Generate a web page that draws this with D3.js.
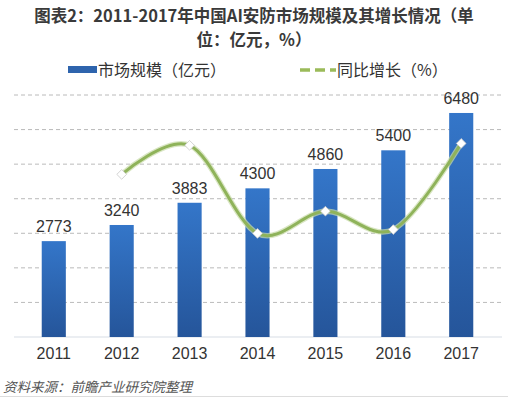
<!DOCTYPE html>
<html><head><meta charset="utf-8">
<script src="https://cdn.jsdelivr.net/npm/d3@7"></script>
<style>
html,body{margin:0;padding:0;background:#fff;}
svg{display:block;font-family:"Noto Sans CJK SC","Noto Sans",sans-serif;}
</style></head>
<body><svg id="c" width="508" height="397"></svg>
<script>
const years = ["2011","2012","2013","2014","2015","2016","2017"];
const marketSize = [2773,3240,3883,4300,4860,5400,6480];
const growthYears = ["2012","2013","2014","2015","2016","2017"];
const growthRate = [16.8,19.8,10.7,13.0,11.1,20.0];
const leftTicks = [0,1000,2000,3000,4000,5000,6000,7000];
const titleLines = ["图表2：2011-2017年中国AI安防市场规模及其增长情况（单","位：亿元，%）"];
const legendLabels = ["市场规模（亿元）","同比增长（%）"];
const sourceText = "资料来源：前瞻产业研究院整理";

const svg = d3.select("#c");
const m = {left:20, right:495, top:95, bottom:337};

const x = d3.scaleBand().domain(years).range([m.left, m.right]).paddingInner(0.645).paddingOuter(0.32);
const y = d3.scaleLinear().domain([0,7000]).range([m.bottom, m.top]);
const y2 = d3.scaleLinear().domain([0,25]).range([m.bottom, m.top]);

const defs = svg.append("defs");
const g = defs.append("linearGradient").attr("id","bg").attr("x1",0).attr("y1",0).attr("x2",0).attr("y2",1);
g.append("stop").attr("offset","0%").attr("stop-color","#3476c9");
g.append("stop").attr("offset","100%").attr("stop-color","#25559a");

// title
svg.append("g").selectAll("text").data(titleLines).join("text")
  .attr("x",254).attr("y",(d,i)=>22+i*24).attr("text-anchor","middle")
  .attr("font-size",16.5).attr("font-weight","bold").attr("fill","#3a3a3a").text(d=>d);

// gridlines
svg.append("g").selectAll("line").data(leftTicks.slice(1)).join("line")
  .attr("x1",14).attr("x2",502).attr("y1",d=>y(d)).attr("y2",d=>y(d))
  .attr("stroke","#a8a8a8").attr("stroke-width",0.8).attr("stroke-dasharray","4,3");

// baseline
svg.append("line").attr("x1",14).attr("x2",502).attr("y1",y(0)).attr("y2",y(0))
  .attr("stroke","#d8dde6").attr("stroke-width",1.2);

// bars
svg.append("g").selectAll("rect").data(marketSize).join("rect")
  .attr("x",(d,i)=>x(years[i])).attr("width",x.bandwidth())
  .attr("y",d=>y(d)).attr("height",d=>y(0)-y(d)).attr("fill","url(#bg)");

// bar labels
svg.append("g").selectAll("text").data(marketSize).join("text")
  .attr("x",(d,i)=>x(years[i])+x.bandwidth()/2).attr("y",d=>y(d)-9)
  .attr("text-anchor","middle").attr("font-size",16).attr("fill","#333")
  .attr("font-family","Liberation Sans, Arial, sans-serif").text(d=>d);

// x axis labels
const xAxis = d3.axisBottom(x).tickSize(0).tickPadding(11);
const ax = svg.append("g").attr("transform",`translate(0,${y(0)})`).call(xAxis);
ax.select(".domain").remove();
ax.selectAll("text").attr("font-size",16).attr("fill","#333").attr("font-family","Liberation Sans, Arial, sans-serif");

// growth line
const pts = growthRate.map((v,i)=>[x(growthYears[i])+x.bandwidth()/2, y2(v)]);
const line = d3.line().curve(d3.curveCardinal.tension(0));
svg.append("path").attr("d",line(pts)).attr("fill","none").attr("stroke","#c9dcaa").attr("stroke-width",5.5).attr("opacity",0.7);
svg.append("path").attr("d",line(pts)).attr("fill","none").attr("stroke","#8fb35a").attr("stroke-width",3);
svg.append("g").selectAll("path").data(pts).join("path")
  .attr("transform",d=>`translate(${d[0]},${d[1]})`)
  .attr("d",d3.symbol().type(d3.symbolDiamond2).size(60))
  .attr("fill","#fff").attr("stroke","#c8c8c8").attr("stroke-width",0.8);

// legend
const lg = svg.append("g");
lg.append("rect").attr("x",68).attr("y",66).attr("width",29).attr("height",7).attr("fill","#2e64ad");
lg.append("text").attr("x",98).attr("y",76).attr("font-size",16).attr("fill","#333").text(legendLabels[0]);
lg.append("line").attr("x1",300).attr("x2",336).attr("y1",70).attr("y2",70)
  .attr("stroke","#9bbb59").attr("stroke-width",3.5).attr("stroke-dasharray","10,5");
lg.append("text").attr("x",337).attr("y",76).attr("font-size",16).attr("fill","#333").text(legendLabels[1]);

// source
svg.append("text").attr("x",3).attr("y",392).attr("font-size",13.5).attr("font-style","italic")
  .attr("fill","#555").text(sourceText);
svg.append("line").attr("x1",0).attr("x2",508).attr("y1",396.5).attr("y2",396.5).attr("stroke","#ddd");
</script></body></html>
